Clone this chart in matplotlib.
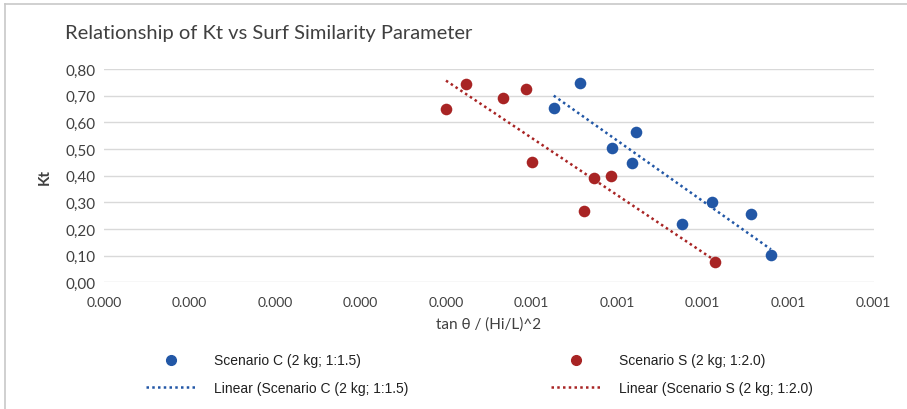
import matplotlib
matplotlib.use('Agg')
import matplotlib.pyplot as plt
import numpy as np
from matplotlib.lines import Line2D

# Scenario C (2 kg; 1:1.5)
c_x = [0.000557, 0.000526, 0.000622, 0.000594, 0.000617, 0.000711, 0.000757, 0.000676, 0.000780]
c_kt = [0.746, 0.654, 0.562, 0.504, 0.446, 0.302, 0.256, 0.219, 0.102]

# Scenario S (2 kg; 1:2.0)
s_x = [0.000400, 0.000423, 0.000467, 0.000493, 0.000500, 0.000573, 0.000593, 0.000561, 0.000715]
s_kt = [0.650, 0.742, 0.691, 0.725, 0.452, 0.392, 0.399, 0.269, 0.075]

x_ticks = [i * 0.0001 for i in range(10)]
y_ticks = [i * 0.1 for i in range(9)]

blue = '#2257A6'
red = '#A82424'
grid_col = '#D9D9D9'
txt_col = '#404040'
fam = ['Lato', 'DejaVu Sans']
narrow = ['Liberation Sans Narrow', 'Liberation Sans', 'DejaVu Sans']

fig = plt.figure(figsize=(9.07, 4.10), dpi=100)
ax = fig.add_axes([104 / 907, 1 - 283.3 / 410, 769.5 / 907, 213.3 / 410])

ax.scatter(c_x, c_kt, s=70, color=blue, zorder=3, linewidths=0)
ax.scatter(s_x, s_kt, s=70, color=red, zorder=3, linewidths=0)

# linear trendlines over each series' x range
for xs, ys, col in [(c_x, c_kt, blue), (s_x, s_kt, red)]:
    k, b = np.polyfit(xs, ys, 1)
    xl = np.array([min(xs), max(xs)])
    ax.plot(xl, k * xl + b, linestyle=(0, (1, 1.3)), color=col, lw=1.8, zorder=2)

ax.set_xlim(0, 0.0009)
ax.set_ylim(0, 0.8)
ax.set_xticks(x_ticks)
ax.set_yticks(y_ticks)
ax.set_xticklabels([f"{v + 1e-12:.3f}" for v in x_ticks], fontfamily=fam, fontsize=10, color=txt_col)
ax.set_yticklabels([f"{v:.2f}".replace('.', ',') for v in y_ticks], fontfamily=fam, fontsize=11, color=txt_col)
ax.tick_params(length=0, pad=6)
ax.tick_params(axis='x', pad=10)
ax.grid(axis='y', color=grid_col, lw=1)
ax.set_axisbelow(True)
for sp in ax.spines.values():
    sp.set_visible(False)

ax.set_xlabel('tan θ / (Hi/L)^2', fontfamily=fam, fontsize=11, color=txt_col, labelpad=6)
ax.set_ylabel('Kt', fontfamily=fam, fontsize=11, color=txt_col, fontweight='bold', labelpad=10)

fig.text(65 / 907, 1 - 33 / 410, 'Relationship of Kt vs Surf Similarity Parameter',
         fontfamily=fam, fontsize=14.5, color=txt_col, va='center', ha='left')

# chart frame (top and left edges)
fig.add_artist(Line2D([5 / 907, 5 / 907], [0, 1 - 4.5 / 410], color='#C8C8C8', lw=1.2, transform=fig.transFigure))
fig.add_artist(Line2D([5 / 907, 1], [1 - 4.5 / 410, 1 - 4.5 / 410], color='#C8C8C8', lw=1.2, transform=fig.transFigure))

# legend, two columns
def make_handles(col):
    dot = Line2D([], [], marker='o', color=col, linestyle='none', markersize=7)
    line = Line2D([], [], color=col, linestyle=(0, (1, 1.3)), lw=1.8)
    return [dot, line]

for col, labels, x0 in [(blue, ['Scenario C (2 kg; 1:1.5)', 'Linear (Scenario C (2 kg; 1:1.5)'], 133),
                        (red, ['Scenario S (2 kg; 1:2.0)', 'Linear (Scenario S (2 kg; 1:2.0)'], 538)]:
    leg = fig.legend(make_handles(col), labels, loc='upper left',
                     bbox_to_anchor=(x0 / 907, 1 - 342 / 410), frameon=False,
                     handlelength=3.6, handletextpad=1.3, labelspacing=0.95,
                     prop={'family': narrow, 'size': 10})
    for t in leg.get_texts():
        t.set_color('#202020')

fig.savefig('out.png', dpi=100)
